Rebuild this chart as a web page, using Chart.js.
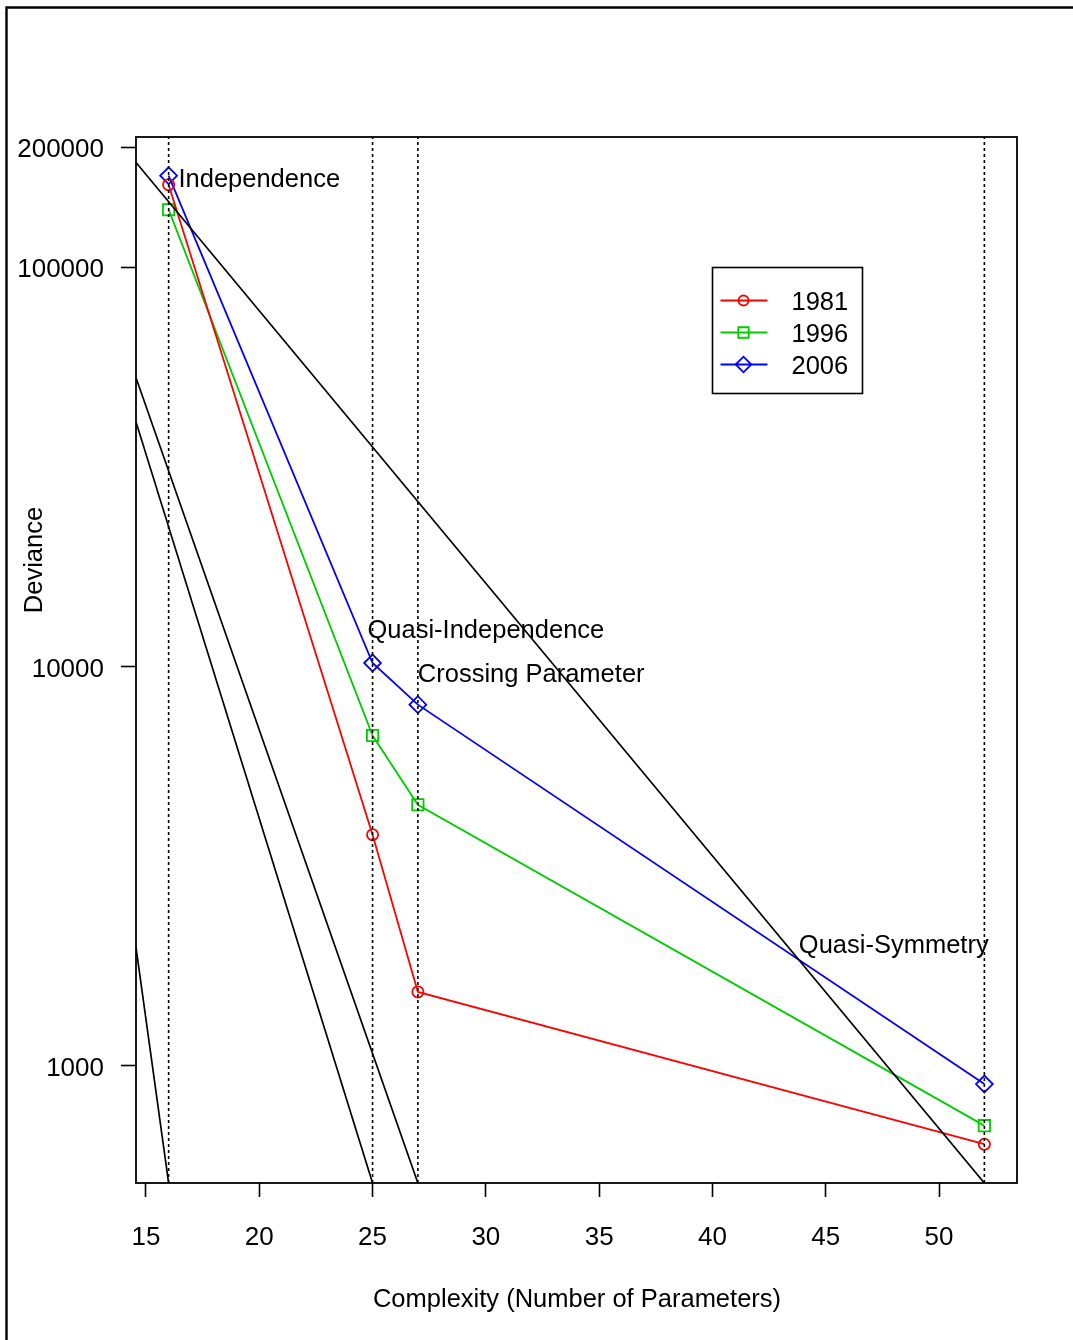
<!DOCTYPE html>
<html lang="en">
<head>
  <meta charset="UTF-8">
  <title>Deviance vs Complexity</title>
  <script src="https://cdn.jsdelivr.net/npm/chart.js"></script>
  <style>
    html, body { margin: 0; padding: 0; background: #fff; }
    #wrap { width: 1073px; height: 1340px; }
  </style>
</head>
<body>
  <div id="wrap"><canvas id="chart"></canvas></div>
  <script>
    // number of parameters for each model
    const params = [16, 25, 27, 52];
    const dev1981 = [161000, 3790, 1531, 636];
    const dev1996 = [139400, 6716, 4505, 708];
    const dev2006 = [169600, 10206, 8027, 900];

    const xTicks = [15, 20, 25, 30, 35, 40, 45, 50];
    const yTicks = [1000, 10000, 100000, 200000];

    // straight lines on the log axis, each given by its two ends
    const lineStartX = [14.56, 14.56, 14.56, 14.56];
    const lineStartY = [183000, 52870, 40970, 1981];
    const lineEndX = [52, 27, 25, 16];
    const lineEndY = [508.6, 508.6, 508.6, 508.6];

    const modelNames = ['Independence', 'Quasi-Independence', 'Crossing Parameter', 'Quasi-Symmetry'];
    const nameX = [20, 30, 32, 48];
    const nameY = [167000, 12390, 9652, 2016];

    const years = ['1981', '1996', '2006'];
    const legendAt = [40, 100000];

    const xMin = 14.56, xMax = 53.44;
    const yMin = 508.6, yMax = 212000;

    const FONT = '"Liberation Sans", Arial, sans-serif';
    Chart.defaults.font.family = FONT;
    Chart.defaults.font.size = 25.5;
    Chart.defaults.color = '#000';

    const series = [
      { label: years[0], data: dev1981, color: '#ff0000', style: 'circle', radius: 5.6 },
      { label: years[1], data: dev1996, color: '#00cd00', style: 'rect', radius: 8 },
      { label: years[2], data: dev2006, color: '#0000ff', style: 'rectRot', radius: 8.4 }
    ];

    const datasets = [];

    // dotted guides at each fitted model
    params.forEach(p => {
      datasets.push({
        data: [{ x: p, y: yMin }, { x: p, y: yMax }],
        borderColor: '#000',
        borderWidth: 1.6,
        borderDash: [3, 3],
        pointRadius: 0,
        showLine: true
      });
    });

    lineStartX.forEach((x0, i) => {
      datasets.push({
        data: [{ x: x0, y: lineStartY[i] }, { x: lineEndX[i], y: lineEndY[i] }],
        borderColor: '#000',
        borderWidth: 1.7,
        pointRadius: 0,
        showLine: true
      });
    });

    series.forEach(s => {
      datasets.push({
        label: s.label,
        data: params.map((p, i) => ({ x: p, y: s.data[i] })),
        borderColor: s.color,
        backgroundColor: 'rgba(0,0,0,0)',
        borderWidth: 1.8,
        pointStyle: s.style,
        pointRadius: s.radius,
        pointBorderWidth: 1.8,
        pointBorderColor: s.color,
        pointBackgroundColor: 'rgba(0,0,0,0)',
        showLine: true
      });
    });

    const decorations = {
      id: 'decorations',
      beforeDraw(chart) {
        const ctx = chart.ctx;
        ctx.save();
        ctx.fillStyle = '#fff';
        ctx.fillRect(0, 0, chart.width, chart.height);
        // outer frame, top and left sides
        ctx.strokeStyle = '#000';
        ctx.lineWidth = 2.4;
        ctx.beginPath();
        ctx.moveTo(chart.width, 7.5);
        ctx.lineTo(6.5, 7.5);
        ctx.lineTo(6.5, chart.height);
        ctx.stroke();
        ctx.restore();
      },
      afterDraw(chart) {
        const ctx = chart.ctx;
        const xs = chart.scales.x, ys = chart.scales.y;
        const a = chart.chartArea;
        ctx.save();
        ctx.strokeStyle = '#000';
        ctx.lineWidth = 1.8;
        ctx.strokeRect(a.left, a.top, a.right - a.left, a.bottom - a.top);

        ctx.fillStyle = '#000';
        ctx.font = '25.5px ' + FONT;
        ctx.textBaseline = 'alphabetic';
        ctx.textAlign = 'center';
        modelNames.forEach((t, i) => {
          ctx.fillText(t, xs.getPixelForValue(nameX[i]), ys.getPixelForValue(nameY[i]) + 9);
        });

        // axis titles
        ctx.fillText('Complexity (Number of Parameters)', 577, 1307);
        ctx.save();
        ctx.translate(42, 560);
        ctx.rotate(-Math.PI / 2);
        ctx.fillText('Deviance', 0, 0);
        ctx.restore();

        // legend box
        const lx = Math.round(xs.getPixelForValue(legendAt[0])) + 0.5;
        const ly = Math.round(ys.getPixelForValue(legendAt[1])) + 0.5;
        ctx.lineWidth = 1.6;
        ctx.strokeRect(lx, ly, 150, 126);
        ctx.textAlign = 'left';
        series.forEach((s, i) => {
          const cy = ly + 33 + i * 32;
          ctx.strokeStyle = s.color;
          ctx.lineWidth = 1.8;
          ctx.beginPath();
          ctx.moveTo(lx + 8, cy);
          ctx.lineTo(lx + 55, cy);
          ctx.stroke();
          ctx.fillStyle = 'rgba(0,0,0,0)';
          Chart.helpers.drawPoint(ctx, {
            pointStyle: s.style, radius: s.radius - 0.6, rotation: 0, borderWidth: 1.8
          }, lx + 31, cy);
          ctx.fillStyle = '#000';
          ctx.fillText(s.label, lx + 79, cy + 9);
        });
        ctx.restore();
      }
    };

    new Chart(document.getElementById('chart'), {
      type: 'scatter',
      data: { datasets },
      options: {
        responsive: true,
        maintainAspectRatio: false,
        animation: false,
        layout: { padding: { left: 0, top: 137, right: 56, bottom: 0 } },
        plugins: {
          legend: { display: false },
          tooltip: { enabled: false }
        },
        scales: {
          x: {
            type: 'linear',
            min: xMin,
            max: xMax,
            afterBuildTicks: s => { s.ticks = xTicks.map(v => ({ value: v })); },
            afterFit: s => { s.height = 157; },
            grid: {
              drawOnChartArea: false,
              drawTicks: true,
              tickLength: 14,
              tickColor: '#000',
              tickWidth: 1.6
            },
            border: { display: false },
            ticks: { autoSkip: false, maxRotation: 0, padding: 25, color: '#000', font: { size: 26 } }
          },
          y: {
            type: 'logarithmic',
            min: yMin,
            max: yMax,
            afterBuildTicks: s => { s.ticks = yTicks.map(v => ({ value: v })); },
            afterFit: s => { s.width = 136; },
            grid: {
              drawOnChartArea: false,
              drawTicks: true,
              tickLength: 15,
              tickColor: '#000',
              tickWidth: 1.6
            },
            border: { display: false },
            ticks: {
              autoSkip: false,
              padding: 17,
              labelOffset: 3,
              color: '#000',
              font: { size: 26 },
              callback: v => String(v)
            }
          }
        }
      },
      plugins: [decorations]
    });
  </script>
</body>
</html>
